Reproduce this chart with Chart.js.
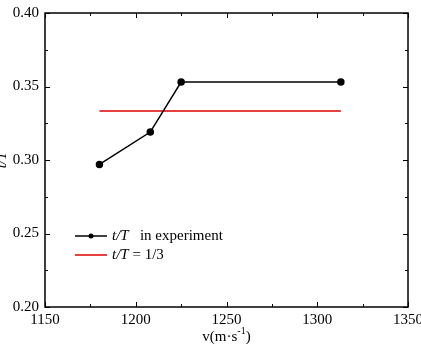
<!DOCTYPE html>
<html>
<head>
<meta charset="utf-8">
<script src="https://cdn.jsdelivr.net/npm/chart.js@4/dist/chart.umd.min.js"></script>
<style>
  html, body { margin: 0; padding: 0; background: #fff; }
  #chart { display: block; }
</style>
</head>
<body>
<canvas id="chart" width="421" height="344"></canvas>
<script>
// --- Data ---
const speeds = [1180, 1208, 1225, 1313];
const ratios = [0.297, 0.319, 0.353, 0.353];
const theorySpeeds = [1180, 1313];
const theoryRatios = [1 / 3, 1 / 3];

const xTicks = [1150, 1200, 1250, 1300, 1350];
const xMinor = [1175, 1225, 1275, 1325];
const yTicks = [0.20, 0.25, 0.30, 0.35, 0.40];
const yMinor = [0.225, 0.275, 0.325, 0.375];

const FONT = '"Liberation Serif", "Times New Roman", serif';

// frame, inward ticks, tick labels, axis titles and legend
const framePlugin = {
    id: 'frame',
    afterDraw(chart) {
        const ctx = chart.ctx;
        const a = chart.chartArea;
        const xs = chart.scales.x;
        const ys = chart.scales.y;

        ctx.save();
        ctx.strokeStyle = '#000';
        ctx.lineWidth = 1.5;
        ctx.strokeRect(a.left, a.top, a.right - a.left, a.bottom - a.top);

        ctx.lineWidth = 1;
        ctx.beginPath();
        xTicks.forEach(v => {
            const px = Math.round(xs.getPixelForValue(v)) + 0.5;
            ctx.moveTo(px, a.bottom); ctx.lineTo(px, a.bottom - 5);
            ctx.moveTo(px, a.top); ctx.lineTo(px, a.top + 5);
        });
        xMinor.forEach(v => {
            const px = Math.round(xs.getPixelForValue(v)) + 0.5;
            ctx.moveTo(px, a.bottom); ctx.lineTo(px, a.bottom - 3);
            ctx.moveTo(px, a.top); ctx.lineTo(px, a.top + 3);
        });
        yTicks.forEach(v => {
            const py = Math.round(ys.getPixelForValue(v)) + 0.5;
            ctx.moveTo(a.left, py); ctx.lineTo(a.left + 5, py);
            ctx.moveTo(a.right, py); ctx.lineTo(a.right - 5, py);
        });
        yMinor.forEach(v => {
            const py = Math.round(ys.getPixelForValue(v)) + 0.5;
            ctx.moveTo(a.left, py); ctx.lineTo(a.left + 3, py);
            ctx.moveTo(a.right, py); ctx.lineTo(a.right - 3, py);
        });
        ctx.stroke();

        // tick labels
        ctx.fillStyle = '#000';
        ctx.font = '15px ' + FONT;
        ctx.textAlign = 'center';
        ctx.textBaseline = 'top';
        xTicks.forEach(v => ctx.fillText(String(v), xs.getPixelForValue(v), a.bottom + 6));
        ctx.textAlign = 'right';
        ctx.textBaseline = 'middle';
        yTicks.forEach(v => ctx.fillText(v.toFixed(2), a.left - 6, ys.getPixelForValue(v)));

        // x title: v(m·s^-1)
        const midX = (a.left + a.right) / 2;
        const base = 341;
        ctx.textAlign = 'left';
        ctx.textBaseline = 'alphabetic';
        ctx.font = '15px ' + FONT;
        const p1 = 'v(m·s';
        const p3 = ')';
        ctx.font = '10px ' + FONT;
        const sup = '-1';
        const wSup = ctx.measureText(sup).width;
        ctx.font = '15px ' + FONT;
        const w1 = ctx.measureText(p1).width;
        const w3 = ctx.measureText(p3).width;
        let x0 = midX - (w1 + wSup + w3) / 2;
        ctx.fillText(p1, x0, base);
        ctx.font = '10px ' + FONT;
        ctx.fillText(sup, x0 + w1, base - 7);
        ctx.font = '15px ' + FONT;
        ctx.fillText(p3, x0 + w1 + wSup, base);

        // y title (partly cut at the left edge)
        ctx.save();
        ctx.translate(2, (a.top + a.bottom) / 2);
        ctx.rotate(-Math.PI / 2);
        ctx.font = 'italic 15px ' + FONT;
        ctx.textAlign = 'center';
        ctx.textBaseline = 'middle';
        ctx.fillText('t/T', 0, 0);
        ctx.restore();

        // legend
        const rows = [
            { ds: chart.data.datasets[0], y: 236, parts: [['t/T', true], ['   in experiment', false]] },
            { ds: chart.data.datasets[1], y: 255, parts: [['t/T', true], [' = 1/3', false]] }
        ];
        rows.forEach(r => {
            ctx.strokeStyle = r.ds.borderColor;
            ctx.lineWidth = r.ds.borderWidth;
            ctx.beginPath();
            ctx.moveTo(75, r.y); ctx.lineTo(107, r.y);
            ctx.stroke();
            if (r.ds.pointRadius > 0) {
                ctx.fillStyle = r.ds.pointBackgroundColor;
                ctx.beginPath();
                ctx.arc(91, r.y, 2.5, 0, Math.PI * 2);
                ctx.fill();
            }
            ctx.fillStyle = '#000';
            ctx.textBaseline = 'middle';
            ctx.textAlign = 'left';
            let tx = 112;
            r.parts.forEach(([txt, it]) => {
                ctx.font = (it ? 'italic ' : '') + '15px ' + FONT;
                ctx.fillText(txt, tx, r.y);
                tx += ctx.measureText(txt).width;
            });
        });
        ctx.restore();
    }
};

new Chart(document.getElementById('chart'), {
    type: 'line',
    data: {
        datasets: [{
            label: 't/T in experiment',
            data: speeds.map((s, i) => ({ x: s, y: ratios[i] })),
            borderColor: '#000',
            backgroundColor: '#000',
            pointBackgroundColor: '#000',
            pointBorderColor: '#000',
            pointRadius: 3,
            borderWidth: 1.5,
            tension: 0
        }, {
            label: 't/T = 1/3',
            data: theorySpeeds.map((s, i) => ({ x: s, y: theoryRatios[i] })),
            borderColor: '#e00000',
            backgroundColor: '#e00000',
            pointRadius: 0,
            borderWidth: 1.5,
            tension: 0
        }]
    },
    options: {
        responsive: false,
        animation: false,
        events: [],
        layout: { padding: { left: 45, top: 13, right: 13, bottom: 37 } },
        plugins: { legend: { display: false }, tooltip: { enabled: false } },
        scales: {
            x: { type: 'linear', min: 1150, max: 1350, display: false },
            y: { type: 'linear', min: 0.20, max: 0.40, display: false }
        }
    },
    plugins: [framePlugin]
});
</script>
</body>
</html>
